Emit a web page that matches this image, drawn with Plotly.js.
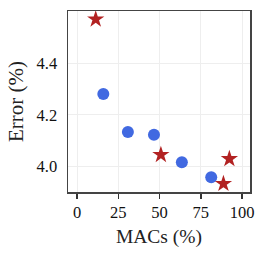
<!DOCTYPE html>
<html>
<head>
<meta charset="utf-8">
<script src="https://cdn.plot.ly/plotly-3.0.1.min.js"></script>
<style>html,body{margin:0;padding:0;background:#fff;}#chart{width:266px;height:255px;}</style>
</head>
<body>
<div id="chart"></div>
<script>
const circleMACs = [15.9, 30.8, 46.6, 63.5, 81.3];
const circleError = [4.281, 4.134, 4.123, 4.017, 3.959];
const starMACs = [11.3, 50.8, 88.7, 92.3];
const starError = [4.570, 4.046, 3.934, 4.030];
const xTicks = [0, 25, 50, 75, 100];
const yTicks = [4.0, 4.2, 4.4];

const traces = [
  {x: circleMACs, y: circleError, type: 'scatter', mode: 'markers',
   marker: {symbol: 'circle', size: 12, color: '#4169E1'}, showlegend: false},
  {x: starMACs, y: starError, type: 'scatter', mode: 'markers',
   marker: {symbol: 'star', size: 13, color: '#B22222'}, showlegend: false}
];
const fontFam = 'Liberation Serif, Times New Roman, serif';
const layout = {
  width: 266, height: 255,
  margin: {l: 67.5, r: 16, t: 11, b: 63},
  paper_bgcolor: '#fff', plot_bgcolor: '#fff',
  font: {family: fontFam, color: '#111', size: 16},
  xaxis: {
    range: [-5.5, 104.8], tickvals: xTicks, ticktext: xTicks.map(String),
    showgrid: true, gridcolor: '#eeeeee', gridwidth: 1,
    zeroline: false, showline: true, linecolor: '#444', linewidth: 1.5, mirror: true,
    ticks: 'outside', ticklen: 5, tickwidth: 1.5, tickcolor: '#333',
    tickfont: {family: fontFam, size: 16.5, color: '#111'},
    title: {text: 'MACs (%)', font: {family: fontFam, size: 19.5, color: '#222'}, standoff: 8}
  },
  yaxis: {
    range: [3.902, 4.602], tickvals: yTicks, ticktext: yTicks.map(v => v.toFixed(1)),
    showgrid: true, gridcolor: '#eeeeee', gridwidth: 1,
    zeroline: false, showline: true, linecolor: '#444', linewidth: 1.5, mirror: true,
    ticks: 'outside', ticklen: 6, tickcolor: 'rgba(0,0,0,0)',
    tickfont: {family: fontFam, size: 16.5, color: '#111'},
    title: {text: 'Error (%)', font: {family: fontFam, size: 21, color: '#222'}, standoff: 7}
  }
};
Plotly.newPlot('chart', traces, layout, {displayModeBar: false, staticPlot: true});
</script>
</body>
</html>
